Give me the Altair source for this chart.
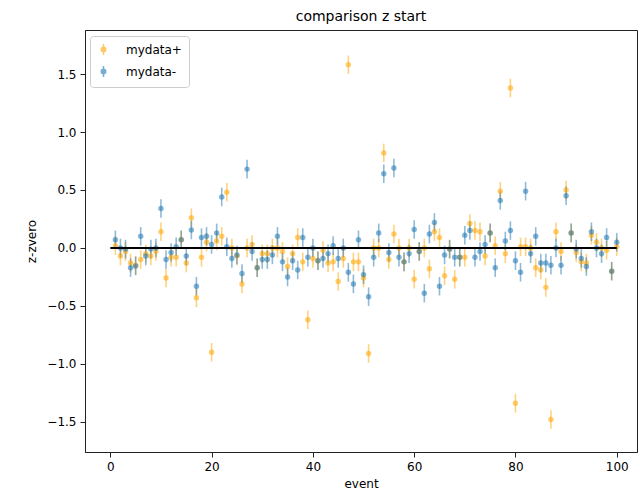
import altair as alt
import pandas as pd

events = list(range(1, 101))

plus_vals = [0.02, -0.07, -0.03, -0.13, -0.15, -0.1, -0.05, -0.07, -0.03, 0.14,
             -0.26, -0.08, -0.08, 0.07, -0.13, 0.26, -0.43, -0.08, 0.05, -0.9,
             0.06, 0.10, 0.48, 0.0, -0.07, -0.31, 0.0, 0.03, -0.17, -0.05,
             -0.05, 0.0, 0.0, -0.03, -0.16, -0.05, 0.09, -0.12, -0.62, -0.09,
             -0.11, -0.02, -0.13, -0.12, -0.29, -0.09, 1.58, -0.12, -0.12, -0.26,
             -0.91, 0.0, 0.0, 0.82, -0.1, 0.12, 0.0, -0.12, 0.0, -0.27,
             -0.03, 0.0, -0.18, 0.14, 0.09, -0.24, -0.01, -0.27, -0.08, -0.08,
             0.21, 0.15, 0.14, -0.07, 0.13, 0.02, 0.49, -0.05, 1.38, -1.34,
             0.01, 0.01, 0.0, -0.17, -0.19, -0.34, -1.48, 0.14, -0.03, 0.50,
             0.13, -0.04, -0.12, -0.13, 0.11, 0.05, 0.0, -0.02, -0.2, 0.01]

minus_vals = [0.07, 0.0, -0.01, -0.17, -0.155, 0.10, -0.07, -0.01, 0.0, 0.34,
              -0.1, -0.04, 0.01, 0.07, -0.07, 0.155, -0.33, 0.09, 0.10, 0.03,
              0.13, 0.44, 0.01, -0.09, -0.06, -0.22, 0.68, -0.03, -0.17, -0.1,
              -0.1, -0.06, 0.1, -0.12, -0.25, -0.11, -0.19, 0.09, -0.08, 0.0,
              -0.11, -0.09, -0.05, 0.02, -0.09, 0.0, -0.21, -0.31, 0.07, -0.23,
              -0.42, -0.08, 0.13, 0.64, -0.04, 0.69, -0.08, -0.12, -0.05, 0.16,
              -0.03, -0.39, 0.12, 0.22, -0.33, -0.06, -0.01, -0.08, -0.08, 0.11,
              0.15, -0.08, -0.03, 0.03, 0.13, -0.17, 0.41, 0.06, 0.15, -0.11,
              -0.21, 0.49, -0.05, 0.1, -0.13, -0.13, -0.15, 0.0, -0.15, 0.45,
              0.13, -0.01, -0.09, -0.16, 0.14, 0.0, -0.05, 0.09, -0.2, 0.05]

plus_err = [0.08] * 100
minus_err = [0.08] * 100

series_names = ["mydata+", "mydata-"]
series_colors = ["#FFA500", "#1f77b4"]

rows = []
for name, vals, errs in [(series_names[0], plus_vals, plus_err),
                         (series_names[1], minus_vals, minus_err)]:
    for e, v, er in zip(events, vals, errs):
        rows.append({"event": e, "value": v, "lo": v - er, "hi": v + er, "series": name})
df = pd.DataFrame(rows)
df["order"] = df["series"].map({series_names[0]: 0, series_names[1]: 1})

zero_df = pd.DataFrame({"x0": [0], "x1": [100], "y": [0]})

xscale = alt.Scale(domain=[-5, 104], nice=False, zero=False)
yscale = alt.Scale(domain=[-1.76, 1.88], nice=False, zero=False)
color = alt.Color("series:N",
                  scale=alt.Scale(domain=series_names, range=series_colors),
                  legend=alt.Legend(title=None, orient="none", legendX=5, legendY=6,
                                    symbolType="M0,-1V1M-0.4,0a0.4,0.4 0 1,0 0.8,0a0.4,0.4 0 1,0 -0.8,0",
                                    symbolSize=120, symbolStrokeWidth=1.5,
                                    symbolOpacity=0.6,
                                    labelFontSize=12, labelFont="DejaVu Sans",
                                    labelColor="#000", rowPadding=5,
                                    fillColor="white", strokeColor="#ccc",
                                    cornerRadius=3, padding=7, labelOffset=16))

base = alt.Chart(df)

bars = base.mark_rule(strokeWidth=1.6, opacity=0.5).encode(
    x=alt.X("event:Q", scale=xscale,
            axis=alt.Axis(values=[0, 20, 40, 60, 80, 100], title="event", format="d")),
    y=alt.Y("lo:Q", scale=yscale,
            axis=alt.Axis(values=[-1.5, -1.0, -0.5, 0.0, 0.5, 1.0, 1.5], format=".1f",
                          title="z-zvero")),
    y2="hi:Q",
    color=color,
    order="order:Q",
)

pts = base.mark_point(filled=True, size=30, opacity=0.55).encode(
    x=alt.X("event:Q", scale=xscale),
    y=alt.Y("value:Q", scale=yscale),
    color=color,
    order="order:Q",
)

zero = alt.Chart(zero_df).mark_rule(color="black", strokeWidth=2).encode(
    x=alt.X("x0:Q", scale=xscale),
    x2="x1:Q",
    y=alt.Y("y:Q", scale=yscale),
)

chart = alt.layer(bars, pts, zero).properties(
    width=552, height=422,
    title=alt.TitleParams("comparison z start", fontSize=14, font="DejaVu Sans",
                          fontWeight="normal", color="#000", offset=6),
    autosize=alt.AutoSizeParams(type="none"),
    padding={"left": 85, "top": 30, "right": 3, "bottom": 48},
).configure_view(
    stroke="#222", strokeWidth=1
).configure_axis(
    grid=False, labelFont="DejaVu Sans", titleFont="DejaVu Sans",
    labelFontSize=12, titleFontSize=12, titleFontWeight="normal",
    labelColor="#000", titleColor="#000", domainColor="#222", tickColor="#222",
    tickSize=5, labelPadding=4
).configure_axisY(titlePadding=8).configure_axisX(titlePadding=6)

chart.save("out.html", embed_options={"renderer": "svg", "actions": False})
